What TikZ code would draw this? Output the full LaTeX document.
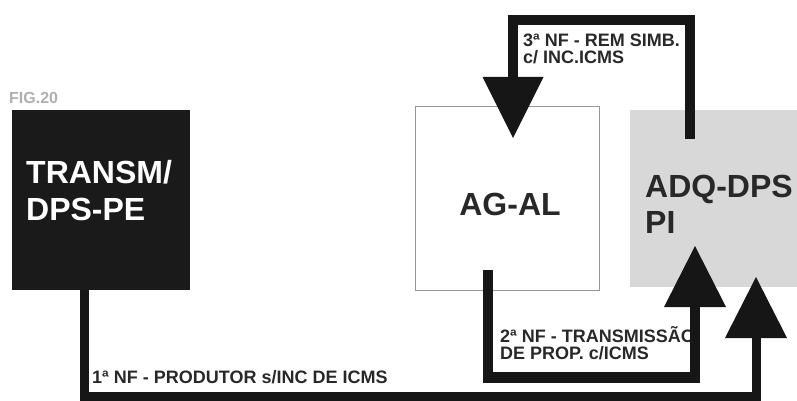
\documentclass[tikz,border=0pt]{standalone}
\usepackage{fontspec}
\setmainfont{Liberation Sans}
\usetikzlibrary{arrows.meta}
\definecolor{boxblack}{RGB}{26,26,26}
\definecolor{lblgray}{RGB}{40,40,40}
\definecolor{figgray}{RGB}{175,175,175}
\definecolor{adqfill}{RGB}{216,216,216}
\definecolor{agline}{RGB}{150,150,150}
\definecolor{connblack}{RGB}{22,22,22}
\tikzset{
  boxnode/.style={rectangle, inner sep=0pt, outer sep=0pt},
  bigtxt/.style={inner sep=0pt, anchor=base west, font=\fontsize{32}{37}\selectfont\bfseries},
  lbl/.style={inner sep=0pt, anchor=base west, text=lblgray, font=\fontsize{18}{21}\selectfont\bfseries},
  conn/.style={draw=connblack, line join=miter, line cap=butt},
  bighead/.style={-{Triangle[width=#1, length=61pt, line width=0pt, fill=connblack]}}
}
\begin{document}
\begin{tikzpicture}[x=1pt, y=-1pt]
\useasboundingbox (0,0) rectangle (797,401);
% boxes
\node[boxnode, fill=boxblack, minimum width=178pt, minimum height=180pt] (tr) at (101,200) {};
\node[boxnode, fill=white, draw=agline, line width=0.8pt, minimum width=184pt, minimum height=184pt] (ag) at (507,198) {};
\node[boxnode, fill=adqfill, minimum width=167pt, minimum height=177pt] (adq) at (713.5,198.5) {};
% texts
\node[inner sep=0pt, anchor=base west, text=figgray, font=\fontsize{16}{18}\selectfont\bfseries] (fig) at (9,103.5) {FIG.20};
\node[bigtxt, text=white] (tr1) at (26,183) {TRANSM/};
\node[bigtxt, text=white] (tr2) at (26,220) {DPS-PE};
\node[bigtxt, anchor=base, text=lblgray] (agt) at (510,215) {AG-AL};
\node[bigtxt, text=lblgray] (adq1) at (645,197) {ADQ-DPS};
\node[bigtxt, text=lblgray] (adq2) at (645,233) {PI};
\node[lbl] (l3a) at (523,47) {3ª NF - REM SIMB.};
\node[lbl] (l3b) at (523,64) {c/ INC.ICMS};
\node[lbl] (l2a) at (500,342) {2ª NF - TRANSMISSÃO};
\node[lbl] (l2b) at (500,359) {DE PROP. c/ICMS};
\node[lbl] (l1) at (92,383) {1ª NF - PRODUTOR s/INC DE ICMS};
% connector points
\coordinate (c1s) at (84,290);
\coordinate (c1a) at (84,396.5);
\coordinate (c1b) at (756,396.5);
\coordinate (c1e) at (756,277);
\coordinate (c2s) at (488,270);
\coordinate (c2a) at (488,377.5);
\coordinate (c2b) at (695,377.5);
\coordinate (c2e) at (695,246);
\coordinate (c3s) at (690,139);
\coordinate (c3a) at (690,20);
\coordinate (c3b) at (513,20);
\coordinate (c3e) at (513,138);
% connectors
\draw[conn, line width=9pt, bighead=62pt] (c1s) -- (c1a) -- (c1b) -- (c1e);
\draw[conn, line width=10.5pt, bighead=62pt] (c2s) -- (c2a) -- (c2b) -- (c2e);
\draw[conn, line width=10pt, bighead=61pt] (c3s) -- (c3a) -- (c3b) -- (c3e);
\end{tikzpicture}
\end{document}
